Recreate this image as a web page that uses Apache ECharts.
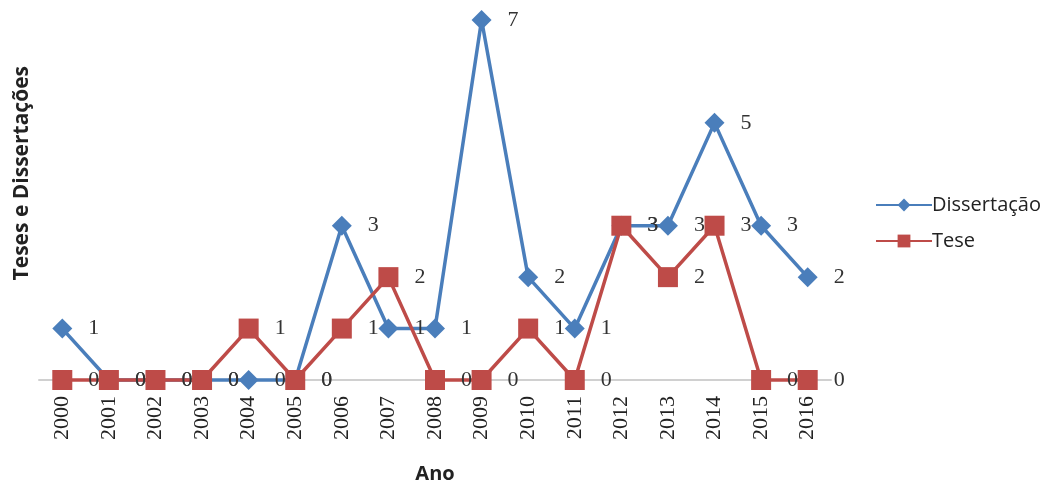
<!DOCTYPE html>
<html>
<head>
<meta charset="utf-8">
<script src="https://cdn.jsdelivr.net/npm/echarts@6/dist/echarts.min.js"></script>
<style>
  html, body { margin: 0; padding: 0; background: #ffffff; }
  #chart { width: 1056px; height: 489px; }
</style>
</head>
<body>
<div id="chart"></div>
<script>
// Theses and dissertations per year
const anos = ['2000','2001','2002','2003','2004','2005','2006','2007','2008',
              '2009','2010','2011','2012','2013','2014','2015','2016'];
const dissertacao = [1, 0, 0, 0, 0, 0, 3, 1, 1, 7, 2, 1, 3, 3, 5, 3, 2];
const tese        = [0, 0, 0, 0, 1, 0, 1, 2, 0, 0, 1, 0, 3, 2, 3, 0, 0];

const serifFont = '"Liberation Serif", "DejaVu Serif", serif';
const sansFont = '"Open Sans", "Noto Sans", sans-serif';

const labelStyle = {
  show: true,
  position: 'right',
  distance: 16,
  fontFamily: serifFont,
  fontSize: 22,
  color: '#333333'
};

const chart = echarts.init(document.getElementById('chart'), null, { renderer: 'canvas' });

chart.setOption({
  animation: false,
  backgroundColor: '#ffffff',
  grid: { left: 39, right: 225, top: 20, bottom: 104, containLabel: false },
  legend: {
    orient: 'vertical',
    left: 870,
    top: 190,
    itemWidth: 56,
    itemHeight: 16,
    itemGap: 16,
    textStyle: { fontFamily: sansFont, fontSize: 20, color: '#222222', padding: [0, 0, 0, -5] },
    data: ['Dissertação', 'Tese']
  },
  xAxis: {
    type: 'category',
    data: anos,
    boundaryGap: true,
    name: 'Ano',
    nameLocation: 'middle',
    nameGap: 84,
    nameTextStyle: { fontFamily: sansFont, fontSize: 20, fontWeight: 'bold', color: '#222222' },
    axisLine: { show: true, lineStyle: { color: '#d0d0d0', width: 2 } },
    axisTick: { show: false },
    axisLabel: {
      rotate: 90,
      interval: 0,
      margin: 16,
      fontFamily: serifFont,
      fontSize: 22,
      color: '#222222'
    }
  },
  yAxis: {
    type: 'value',
    min: 0,
    max: 7,
    interval: 1,
    axisLine: { show: false },
    axisTick: { show: false },
    axisLabel: { show: false },
    splitLine: { show: false }
  },
  graphic: [{
    type: 'text',
    left: 12,
    top: 66,
    rotation: Math.PI / 2,
    style: {
      text: 'Teses e Dissertações',
      fontFamily: sansFont,
      fontSize: 21,
      fontWeight: 'bold',
      fill: '#222222'
    }
  }],
  series: [
    {
      name: 'Dissertação',
      type: 'line',
      data: dissertacao,
      clip: false,
      symbol: 'diamond',
      symbolSize: 20,
      itemStyle: { color: '#4A7EBB' },
      lineStyle: { color: '#4A7EBB', width: 3.5 },
      label: labelStyle,
      z: 2
    },
    {
      name: 'Tese',
      type: 'line',
      data: tese,
      clip: false,
      symbol: 'rect',
      symbolSize: 20,
      itemStyle: { color: '#BE4B48' },
      lineStyle: { color: '#BE4B48', width: 3.5 },
      label: labelStyle,
      z: 3
    }
  ]
});
</script>
</body>
</html>
